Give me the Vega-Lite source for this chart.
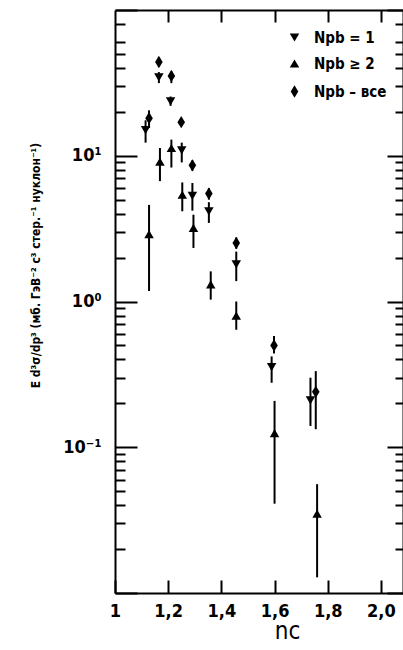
{
  "$schema": "https://vega.github.io/schema/vega-lite/v6.json",
  "width": 288,
  "height": 583,
  "autosize": {"type": "none"},
  "padding": {"left": 115, "top": 10, "right": 0, "bottom": 57},
  "background": "white",
  "config": {
    "view": {"stroke": null},
    "axis": {
      "domainColor": "black", "tickColor": "black", "labelColor": "black", "titleColor": "black",
      "grid": false, "domainWidth": 2, "tickWidth": 2,
      "labelFont": "DejaVu Sans Condensed", "titleFont": "DejaVu Sans Condensed",
      "labelFontWeight": "bold", "titleFontWeight": "bold"
    },
    "legend": {"labelFont": "DejaVu Sans Condensed", "labelFontWeight": "bold", "labelColor": "black"}
  },
  "data": {"values": [
    {"nc": 1.115, "val": 15.0, "lo": 12.3, "hi": 17.5, "s": "Npb = 1"},
    {"nc": 1.165, "val": 34.5, "lo": 31.5, "hi": 37.5, "s": "Npb = 1"},
    {"nc": 1.209, "val": 23.6, "lo": 22.0, "hi": 25.5, "s": "Npb = 1"},
    {"nc": 1.251, "val": 10.9, "lo": 9.0, "hi": 12.3, "s": "Npb = 1"},
    {"nc": 1.291, "val": 5.3, "lo": 4.2, "hi": 6.5, "s": "Npb = 1"},
    {"nc": 1.353, "val": 4.15, "lo": 3.46, "hi": 4.8, "s": "Npb = 1"},
    {"nc": 1.456, "val": 1.8, "lo": 1.38, "hi": 2.2, "s": "Npb = 1"},
    {"nc": 1.589, "val": 0.355, "lo": 0.277, "hi": 0.42, "s": "Npb = 1"},
    {"nc": 1.735, "val": 0.21, "lo": 0.14, "hi": 0.3, "s": "Npb = 1"},
    {"nc": 1.128, "val": 2.9, "lo": 1.18, "hi": 4.6, "s": "Npb ≥ 2"},
    {"nc": 1.169, "val": 9.1, "lo": 6.7, "hi": 11.3, "s": "Npb ≥ 2"},
    {"nc": 1.212, "val": 11.3, "lo": 8.3, "hi": 12.9, "s": "Npb ≥ 2"},
    {"nc": 1.253, "val": 5.4, "lo": 4.16, "hi": 6.56, "s": "Npb ≥ 2"},
    {"nc": 1.295, "val": 3.2, "lo": 2.33, "hi": 3.94, "s": "Npb ≥ 2"},
    {"nc": 1.36, "val": 1.31, "lo": 1.03, "hi": 1.61, "s": "Npb ≥ 2"},
    {"nc": 1.456, "val": 0.8, "lo": 0.64, "hi": 1.0, "s": "Npb ≥ 2"},
    {"nc": 1.6, "val": 0.125, "lo": 0.041, "hi": 0.208, "s": "Npb ≥ 2"},
    {"nc": 1.76, "val": 0.035, "lo": 0.0128, "hi": 0.0558, "s": "Npb ≥ 2"},
    {"nc": 1.128, "val": 18.1, "lo": 15.5, "hi": 20.5, "s": "Npb – все"},
    {"nc": 1.165, "val": 44.0, "lo": 41.0, "hi": 47.0, "s": "Npb – все"},
    {"nc": 1.212, "val": 35.3, "lo": 31.5, "hi": 38.0, "s": "Npb – все"},
    {"nc": 1.249, "val": 17.0, "lo": 16.0, "hi": 18.0, "s": "Npb – все"},
    {"nc": 1.291, "val": 8.6, "lo": 7.9, "hi": 9.3, "s": "Npb – все"},
    {"nc": 1.353, "val": 5.5, "lo": 5.0, "hi": 6.0, "s": "Npb – все"},
    {"nc": 1.456, "val": 2.52, "lo": 2.3, "hi": 2.75, "s": "Npb – все"},
    {"nc": 1.598, "val": 0.5, "lo": 0.44, "hi": 0.58, "s": "Npb – все"},
    {"nc": 1.755, "val": 0.24, "lo": 0.133, "hi": 0.333, "s": "Npb – все"}
  ]},
  "layer": [
    {
      "mark": {"type": "rule", "color": "black", "strokeWidth": 2},
      "encoding": {
        "x": {"field": "nc", "type": "quantitative",
          "scale": {"domain": [1, 2.083], "nice": false, "zero": false},
          "axis": {"orient": "bottom", "values": [1, 1.2, 1.4, 1.6, 1.8, 2.0], "tickSize": -13,
            "labelExpr": "datum.value == 1 ? '1' : replace(format(datum.value, '.1f'), '.', ',')",
            "labelFontSize": 18, "labelPadding": 22, "labelFlush": false,
            "title": "nc", "titleFontSize": 24, "titleFontWeight": "normal", "titleX": 172, "titleY": 26}},
        "y": {"field": "lo", "type": "quantitative",
          "scale": {"type": "log", "domain": [0.01, 100], "nice": false},
          "axis": {"orient": "left", "values": [0.01, 0.1, 1, 10, 100], "tickSize": -22,
            "labelExpr": "datum.value == 10 ? '10¹' : datum.value == 1 ? '10⁰' : datum.value == 0.1 ? '10⁻¹' : ''",
            "labelFontSize": 18, "labelPadding": 36,
            "title": "E d³σ/dp³ (мб. ГэВ⁻² c³ стер.⁻¹ нуклон⁻¹)", "titleFontSize": 12, "titlePadding": 20, "titleY": 255}},
        "y2": {"field": "hi"}
      }
    },
    {
      "mark": {"type": "point", "filled": true, "color": "black", "opacity": 1, "size": 90},
      "encoding": {
        "x": {"field": "nc", "type": "quantitative",
          "axis": {"orient": "top", "values": [1.2, 1.4, 1.6, 1.8, 2.0], "tickSize": -12, "labels": false, "title": null}},
        "y": {"field": "val", "type": "quantitative",
          "axis": {"orient": "left", "domain": false, "labels": false, "title": null, "tickSize": -10,
            "values": [0.02,0.03,0.04,0.05,0.06,0.07,0.08,0.09,0.2,0.3,0.4,0.5,0.6,0.7,0.8,0.9,2,3,4,5,6,7,8,9,20,30,40,50,60,80]}},
        "shape": {"field": "s", "type": "nominal",
          "scale": {"domain": ["Npb = 1", "Npb ≥ 2", "Npb – все"],
            "range": ["triangle-down", "triangle-up", "M0,-1.3L0.8,0L0,1.3L-0.8,0Z"]},
          "legend": {"orient": "none", "legendX": 172, "legendY": 20, "title": null,
            "symbolFillColor": "black", "symbolStrokeColor": "black", "symbolSize": 90,
            "labelFontSize": 15, "rowPadding": 10, "labelOffset": 12}}
      }
    },
    {
      "mark": {"type": "point", "opacity": 0},
      "encoding": {
        "x": {"field": "nc", "type": "quantitative", "axis": null},
        "y": {"field": "val", "type": "quantitative",
          "axis": {"orient": "right", "values": [0.01, 0.1, 1, 10, 100], "tickSize": -16, "labels": false, "title": null}}
      }
    },
    {
      "mark": {"type": "point", "opacity": 0},
      "encoding": {
        "x": {"field": "nc", "type": "quantitative", "axis": null},
        "y": {"field": "val", "type": "quantitative",
          "axis": {"orient": "right", "domain": false, "labels": false, "title": null, "tickSize": -8,
            "values": [0.02,0.03,0.04,0.05,0.06,0.07,0.08,0.09,0.2,0.3,0.4,0.5,0.6,0.7,0.8,0.9,2,3,4,5,6,7,8,9,20,30,40,50,60,80]}}
      }
    }
  ],
  "resolve": {"axis": {"x": "independent", "y": "independent"}}
}
